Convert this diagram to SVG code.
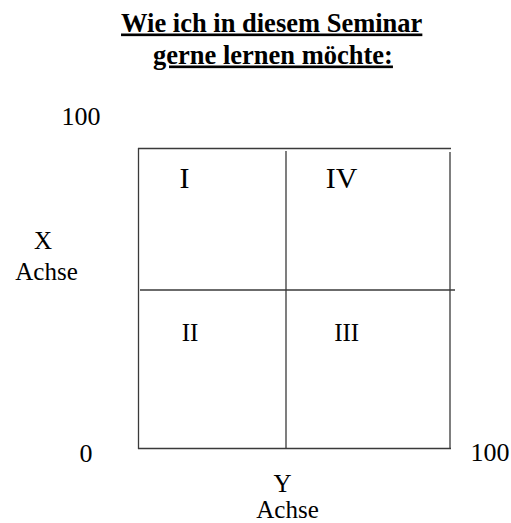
<svg xmlns="http://www.w3.org/2000/svg" width="511" height="523" viewBox="0 0 511 523">
<style>
text{font-family:"Liberation Serif","Times New Roman",serif;fill:#000}
.t{font-size:26.5px;font-weight:bold;text-decoration:underline}
.n{font-size:26px}
.l{font-size:25px}
.q1{font-size:30px}
.q2{font-size:25px}
line{stroke:#3a3a3a;stroke-width:1.3}
</style>
<rect width="511" height="523" fill="#fff"/>
<g id="title">
<text class="t" x="271.7" y="31.5" text-anchor="middle">Wie ich in diesem Seminar</text>
<text class="t" x="273" y="63.5" text-anchor="middle">gerne lernen möchte:</text>
</g>
<g id="connectors">
<line x1="138" y1="148.5" x2="451" y2="148.5"/>
<line x1="138.5" y1="148" x2="138.5" y2="449"/>
<line x1="286" y1="151" x2="286" y2="449"/>
<line x1="450" y1="152" x2="450" y2="449"/>
<line x1="140" y1="290" x2="455" y2="290"/>
<line x1="138" y1="448.5" x2="451" y2="448.5"/>
</g>
<g id="labels">
<text class="n" x="81" y="125" text-anchor="middle">100</text>
<text class="l" x="43" y="249.3" text-anchor="middle">X</text>
<text class="l" x="46.5" y="280" text-anchor="middle">Achse</text>
<text class="n" x="86" y="462" text-anchor="middle">0</text>
<text class="n" x="490" y="461" text-anchor="middle">100</text>
<text class="l" x="282.5" y="491.5" text-anchor="middle">Y</text>
<text class="l" x="287.5" y="518" text-anchor="middle">Achse</text>
</g>
<g id="q1"><text class="q1" x="184.5" y="188.3" text-anchor="middle">I</text></g>
<g id="q4"><text class="q1" x="341.7" y="188.3" text-anchor="middle">IV</text></g>
<g id="q2"><text class="q2" x="190" y="340.7" text-anchor="middle">II</text></g>
<g id="q3"><text class="q2" x="346.7" y="340.7" text-anchor="middle">III</text></g>
</svg>
